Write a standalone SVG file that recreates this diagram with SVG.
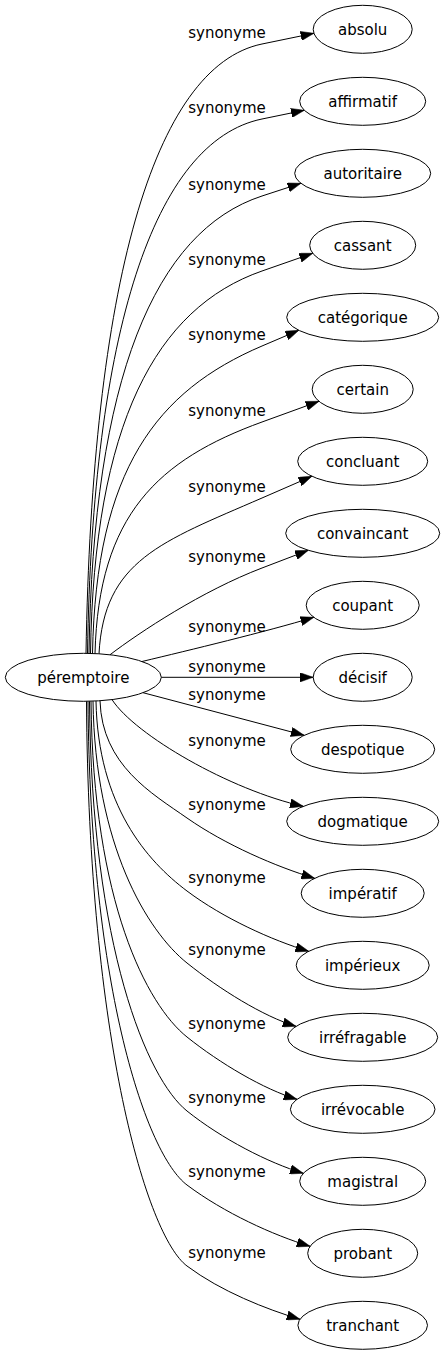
<svg xmlns="http://www.w3.org/2000/svg" width="445" height="1355" viewBox="0 0 445 1355">
<style>
text{font-family:"DejaVu Sans","Verdana",sans-serif;font-size:15px;fill:#000;text-anchor:middle}
.node ellipse{fill:none;stroke:#000;stroke-width:1}
.edges path{fill:none;stroke:#000;stroke-width:1;marker-end:url(#arrow)}
</style>
<defs>
<marker id="arrow" markerUnits="userSpaceOnUse" viewBox="0 0 13.3 9.34" markerWidth="13.3" markerHeight="9.34" refX="13.3" refY="4.67" orient="auto">
<path d="M0,0 L13.3,4.67 L0,9.34 z" fill="#000" stroke="#000" stroke-width="0.5"/>
</marker>
</defs>
<rect width="445" height="1355" fill="#fff"/>
<g class="edges" id="edges">
<path d="M86,653.3 C92,287.7 152.9,66.5 262,44 L313.9,33.3"/>
<path d="M87.5,653.3 C92.5,332.7 153.8,141.3 262,119 L304.3,110.3"/>
<path d="M89,653.4 C93,379 154.7,231 262,196 L300.9,183.3"/>
<path d="M90.5,653.4 C94,424 155.7,308.1 262,271 L312.7,253.3"/>
<path d="M92.5,653.5 C96,469 156.9,390.9 262,346 L298.8,330.3"/>
<path d="M95,653.6 C98.5,514.6 158.5,459.6 262,422 L319,401.3"/>
<path d="M99,653.8 C104,560.3 161,541.9 262,498 L311.9,476.3"/>
<path d="M110,654.75 C140,632 202,590.9 262,568 L308.3,550.3"/>
<path d="M142,661.5 C190,650 265,632 313.8,617.3"/>
<path d="M161.3,677.3 L313.2,677.3"/>
<path d="M143,692.7 L304.2,735.3"/>
<path d="M112,699.6 C135,735 230,790 303.3,806.3"/>
<path d="M100,700.75 C102,765.2 152,793.5 187,818 C225.3,844.8 276.4,866.8 314.7,878.3"/>
<path d="M96,701 C98,805.5 147,861 187,891 C223.5,918.4 272.2,940.3 308.7,951.3"/>
<path d="M93,701.1 C95,845.1 147,931 187,963 C219.7,989.2 263.3,1016.5 296,1026.3"/>
<path d="M91,701.2 C93,902.7 147,1005 187,1037 C220,1063.4 264,1089.4 297,1099.3"/>
<path d="M89.5,701.2 C91.5,947.1 147,1079 187,1111 C221.9,1138.9 268.4,1162.8 303.3,1173.3"/>
<path d="M88,701.3 C90,991.5 147,1155 187,1185 C223.9,1212.7 273.2,1235.2 310.1,1246.3"/>
<path d="M86.5,701.3 C88.5,1040.1 147,1236 187,1266 C220.9,1291.4 266.1,1309.1 300,1319.3"/>
</g>
<g id="edge-labels">
<text x="227" y="38">synonyme</text>
<text x="227" y="113">synonyme</text>
<text x="227" y="190">synonyme</text>
<text x="227" y="265">synonyme</text>
<text x="227" y="340">synonyme</text>
<text x="227" y="416">synonyme</text>
<text x="227" y="492">synonyme</text>
<text x="227" y="562">synonyme</text>
<text x="227" y="632">synonyme</text>
<text x="227" y="672">synonyme</text>
<text x="227" y="700">synonyme</text>
<text x="227" y="746">synonyme</text>
<text x="227" y="810">synonyme</text>
<text x="227" y="883">synonyme</text>
<text x="227" y="955">synonyme</text>
<text x="227" y="1029">synonyme</text>
<text x="227" y="1103">synonyme</text>
<text x="227" y="1177">synonyme</text>
<text x="227" y="1258">synonyme</text>
</g>
<g class="node" id="n-peremptoire"><ellipse cx="83.3" cy="677.3" rx="78" ry="24"/><text x="83.3" y="682.5">péremptoire</text></g>
<g class="node" id="n-absolu"><ellipse cx="362.7" cy="29.3" rx="49.5" ry="24"/><text x="362.7" y="34.5">absolu</text></g>
<g class="node" id="n-affirmatif"><ellipse cx="362.7" cy="101.3" rx="63" ry="24"/><text x="362.7" y="106.5">affirmatif</text></g>
<g class="node" id="n-autoritaire"><ellipse cx="362.7" cy="173.3" rx="68" ry="24"/><text x="362.7" y="178.5">autoritaire</text></g>
<g class="node" id="n-cassant"><ellipse cx="362.7" cy="245.3" rx="53" ry="24"/><text x="362.7" y="250.5">cassant</text></g>
<g class="node" id="n-categorique"><ellipse cx="362.7" cy="317.3" rx="76" ry="24"/><text x="362.7" y="322.5">catégorique</text></g>
<g class="node" id="n-certain"><ellipse cx="362.7" cy="389.3" rx="50.5" ry="24"/><text x="362.7" y="394.5">certain</text></g>
<g class="node" id="n-concluant"><ellipse cx="362.7" cy="461.3" rx="65" ry="24"/><text x="362.7" y="466.5">concluant</text></g>
<g class="node" id="n-convaincant"><ellipse cx="362.7" cy="533.3" rx="77" ry="24"/><text x="362.7" y="538.5">convaincant</text></g>
<g class="node" id="n-coupant"><ellipse cx="362.7" cy="605.3" rx="56.5" ry="24"/><text x="362.7" y="610.5">coupant</text></g>
<g class="node" id="n-decisif"><ellipse cx="362.7" cy="677.3" rx="49.5" ry="24"/><text x="362.7" y="682.5">décisif</text></g>
<g class="node" id="n-despotique"><ellipse cx="362.7" cy="749.3" rx="72" ry="24"/><text x="362.7" y="754.5">despotique</text></g>
<g class="node" id="n-dogmatique"><ellipse cx="362.7" cy="821.3" rx="76" ry="24"/><text x="362.7" y="826.5">dogmatique</text></g>
<g class="node" id="n-imperatif"><ellipse cx="362.7" cy="893.3" rx="61.5" ry="24"/><text x="362.7" y="898.5">impératif</text></g>
<g class="node" id="n-imperieux"><ellipse cx="362.7" cy="965.3" rx="66.5" ry="24"/><text x="362.7" y="970.5">impérieux</text></g>
<g class="node" id="n-irrefragable"><ellipse cx="362.7" cy="1037.3" rx="75" ry="24"/><text x="362.7" y="1042.5">irréfragable</text></g>
<g class="node" id="n-irrevocable"><ellipse cx="362.7" cy="1109.3" rx="72.3" ry="24"/><text x="362.7" y="1114.5">irrévocable</text></g>
<g class="node" id="n-magistral"><ellipse cx="362.7" cy="1181.3" rx="63" ry="24"/><text x="362.7" y="1186.5">magistral</text></g>
<g class="node" id="n-probant"><ellipse cx="362.7" cy="1253.3" rx="55" ry="24"/><text x="362.7" y="1258.5">probant</text></g>
<g class="node" id="n-tranchant"><ellipse cx="362.7" cy="1325.3" rx="64.8" ry="24"/><text x="362.7" y="1330.5">tranchant</text></g>
</svg>
